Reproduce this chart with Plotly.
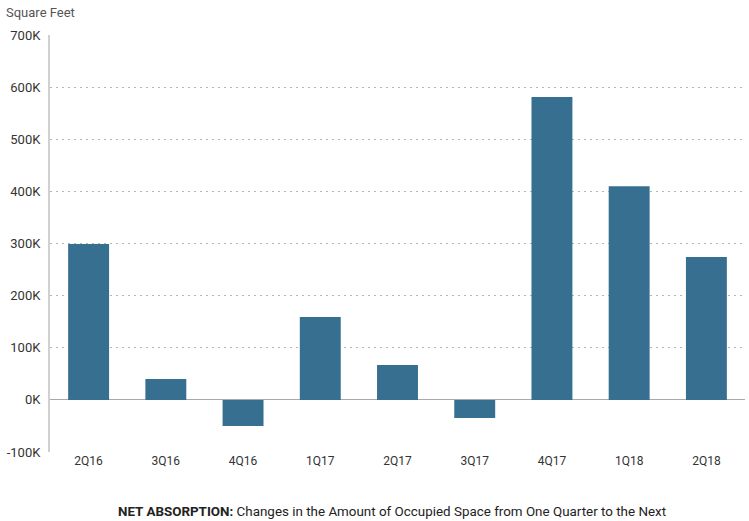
import plotly.graph_objects as go

categories = ["2Q16", "3Q16", "4Q16", "1Q17", "2Q17", "3Q17", "4Q17", "1Q18", "2Q18"]
values = [299000, 40000, -50000, 159000, 67000, -35000, 581000, 410000, 274000]
tick_vals = [-100000, 0, 100000, 200000, 300000, 400000, 500000, 600000, 700000]
tick_text = ["-100K", "0K", "100K", "200K", "300K", "400K", "500K", "600K", "700K"]

FONT = "Roboto, Liberation Sans, sans-serif"

fig = go.Figure(go.Bar(x=categories, y=values, marker_color="#366f8f",
                       marker_line_width=0, width=0.53))

fig.update_layout(
    width=749, height=521,
    margin=dict(l=50, r=4, t=35, b=69),
    plot_bgcolor="white", paper_bgcolor="white",
    font=dict(family=FONT, size=12, color="#333"),
    showlegend=False,
    bargap=0.47,
)
fig.update_xaxes(showgrid=False, ticks="", tickfont=dict(size=12, color="#333"),
                 showline=False, zeroline=False)
fig.update_yaxes(range=[-100000, 700000], tickvals=tick_vals, ticktext=tick_text,
                 showgrid=True, gridcolor="#b5b5b5", griddash="2px,4px", gridwidth=1,
                 zeroline=True, zerolinecolor="#aaaaaa", zerolinewidth=1,
                 showline=True, linecolor="#d0d0d0", linewidth=2,
                 tickfont=dict(size=13, color="#333"), ticks="", ticklabelstandoff=5)
fig.add_annotation(text="Square Feet", xref="paper", yref="paper", x=0, y=1,
                   xshift=-46, yshift=23, xanchor="left", yanchor="middle",
                   showarrow=False, font=dict(size=13, color="#555", family=FONT))
fig.add_annotation(text="<b>NET ABSORPTION:</b> Changes in the Amount of Occupied Space from One Quarter to the Next",
                   xref="paper", yref="paper", x=0.492, y=0, yshift=-59,
                   xanchor="center", yanchor="middle", showarrow=False,
                   font=dict(size=13.4, color="#222", family=FONT))
fig.write_html("out.html")
